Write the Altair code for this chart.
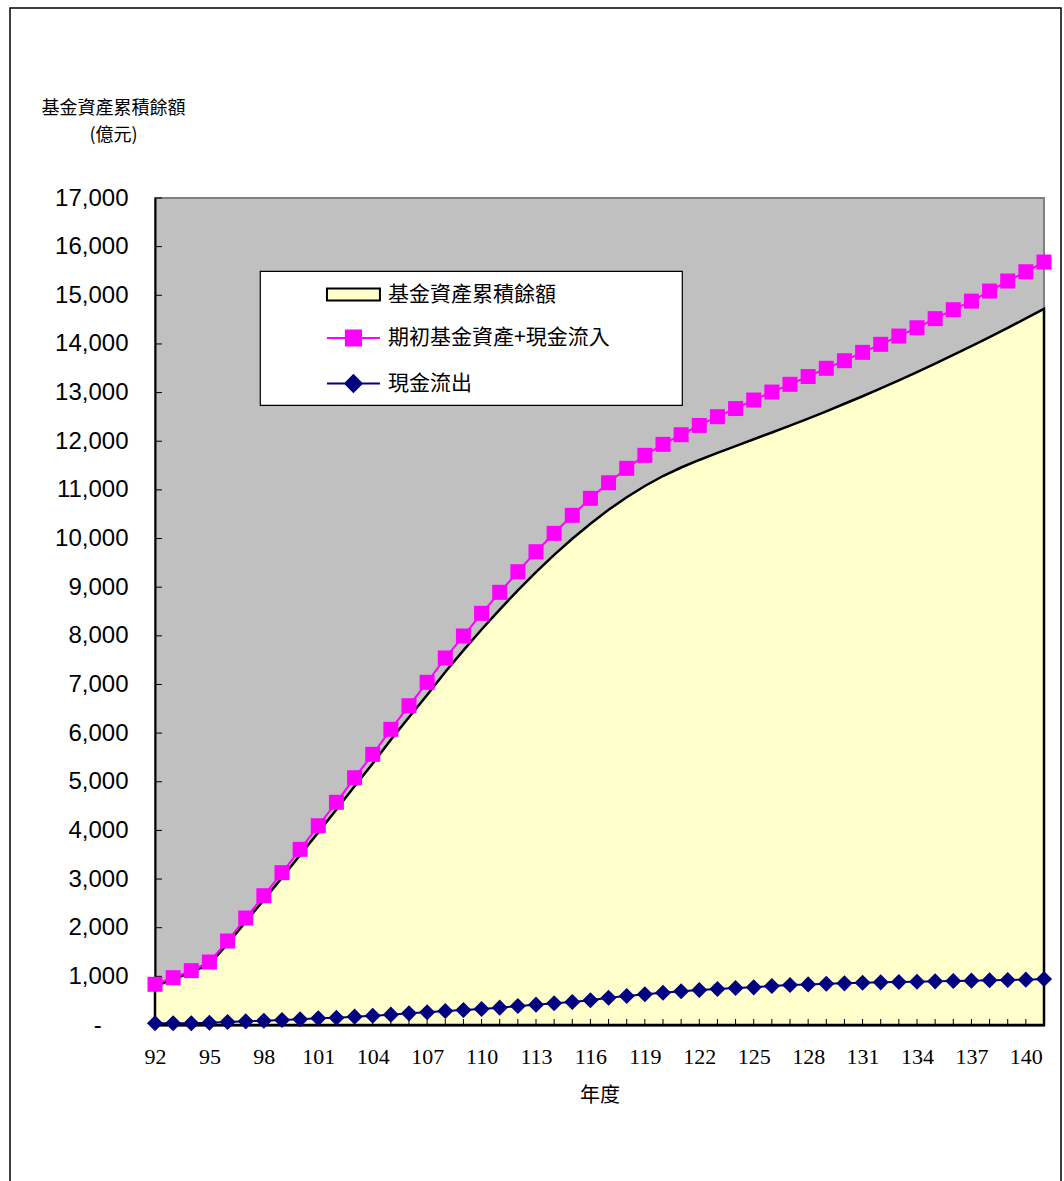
import altair as alt
import pandas as pd

# ---------------- data ----------------
years = list(range(92, 142))

fund_balance = [800, 940, 1080, 1250, 1665, 2125, 2570, 3030, 3495, 3960,
                4430, 4910, 5375, 5865, 6325, 6785, 7255, 7700, 8130, 8540,
                8935, 9310, 9665, 9995, 10305, 10590, 10850, 11080, 11285, 11460,
                11615, 11760, 11900, 12040, 12180, 12320, 12465, 12615, 12770, 12925,
                13085, 13250, 13420, 13595, 13775, 13955, 14140, 14330, 14525, 14720]

begin_plus_inflow = [837, 973, 1117, 1295, 1727, 2199, 2658, 3131, 3611, 4096,
                     4578, 5083, 5564, 6078, 6563, 7044, 7545, 7996, 8462, 8894,
                     9318, 9729, 10107, 10477, 10826, 11147, 11443, 11710, 11936, 12134,
                     12325, 12504, 12672, 12847, 13011, 13170, 13330, 13499, 13655, 13827,
                     13992, 14162, 14333, 14520, 14704, 14880, 15087, 15293, 15484, 15683]

cash_outflow = [35, 35, 35, 47, 62, 75, 88, 103, 117, 138,
                150, 171, 191, 212, 240, 261, 288, 308, 329, 356,
                391, 418, 446, 473, 510, 561, 596, 631, 664, 693,
                719, 740, 761, 774, 801, 822, 835, 848, 856, 869,
                877, 884, 890, 898, 904, 911, 919, 925, 932, 946]

x_tick_labels = [92, 95, 98, 101, 104, 107, 110, 113, 116, 119, 122, 125, 128, 131, 134, 137, 140]
y_ticks = [0, 1000, 2000, 3000, 4000, 5000, 6000, 7000, 8000, 9000, 10000,
           11000, 12000, 13000, 14000, 15000, 16000, 17000]

series_names = ["基金資產累積餘額", "期初基金資產+現金流入", "現金流出"]
y_title = ["基金資產累積餘額", "(億元)"]
x_title = "年度"

# ---------------- styling ----------------
W, H = 889, 827
YELLOW = "#FFFFCC"
PINK = "#FF00FF"
NAVY = "#000080"
CJK = "Noto Sans CJK TC"

df = pd.DataFrame({"year": years, "balance": fund_balance,
                   "inflow": begin_plus_inflow, "outflow": cash_outflow})
xt_df = pd.DataFrame({"year": years})
yt_df = pd.DataFrame({"v": y_ticks})
legend_df = pd.DataFrame({"series": series_names})

x_scale = alt.Scale(domain=[92, 141], nice=False, zero=False)
y_scale = alt.Scale(domain=[0, 17000], nice=False)

nb = "\u00a0"
zw = "\u200b"  # keeps the trailing spaces from being trimmed
y_label_expr = "datum.value == 0 ? '-" + nb * 4 + zw + "' : format(datum.value, ',')"

x_axis = alt.Axis(values=x_tick_labels, format="d", title=x_title,
                  labelFont="Liberation Serif", labelFontSize=22, labelColor="black",
                  labelPadding=21, labelFlush=False, ticks=False, grid=False,
                  domainColor="black", domainWidth=2,
                  titleFont=CJK, titleFontSize=20, titleFontWeight="normal",
                  titleColor="black", titleY=70, titleBaseline="middle")

y_axis = alt.Axis(values=y_ticks, labelExpr=y_label_expr, title=y_title,
                  labelFont="Liberation Sans", labelFontSize=24, labelColor="black",
                  labelPadding=27, ticks=False, grid=False,
                  domainColor="black", domainWidth=2,
                  titleFont=CJK, titleFontSize=18, titleFontWeight="normal",
                  titleColor="black", titleAngle=0, titleAlign="center",
                  titleBaseline="middle", titleX=-42, titleY=-90, titleLineHeight=27)

frame = alt.Chart(alt.Data(values=[{"f": 1}])).mark_rect(
    fillOpacity=0, stroke="black", strokeWidth=1.5
).encode(x=alt.value(-145), x2=alt.value(906), y=alt.value(-190), y2=alt.value(1100))

area = alt.Chart(df).mark_area(fill=YELLOW, stroke="black", strokeWidth=2.5, opacity=1).encode(
    x=alt.X("year:Q", scale=x_scale, axis=x_axis),
    y=alt.Y("balance:Q", scale=y_scale, axis=y_axis),
)

x_ticks_layer = alt.Chart(xt_df).mark_rule(color="black", strokeWidth=1).encode(
    x=alt.X("year:Q", scale=x_scale), y=alt.value(H), y2=alt.value(H - 6))

y_ticks_layer = alt.Chart(yt_df).mark_rule(color="black", strokeWidth=1).encode(
    y=alt.Y("v:Q", scale=y_scale), x=alt.value(0), x2=alt.value(7))

pink_line = alt.Chart(df).mark_line(color=PINK, strokeWidth=2).encode(
    x=alt.X("year:Q", scale=x_scale), y=alt.Y("inflow:Q", scale=y_scale))
pink_pts = alt.Chart(df).mark_point(shape="square", size=225, filled=True, color=PINK, opacity=1).encode(
    x=alt.X("year:Q", scale=x_scale), y=alt.Y("inflow:Q", scale=y_scale))

navy_line = alt.Chart(df).mark_line(color=NAVY, strokeWidth=2).encode(
    x=alt.X("year:Q", scale=x_scale), y=alt.Y("outflow:Q", scale=y_scale))
navy_pts = alt.Chart(df).mark_point(shape="diamond", size=260, filled=True, color=NAVY, opacity=1).encode(
    x=alt.X("year:Q", scale=x_scale), y=alt.Y("outflow:Q", scale=y_scale))

# legend symbols (custom paths in units of sqrt(symbolSize)/2)
path_area = "M3.28,-0.45L7.28,-0.45L7.28,0.45L3.28,0.45Z"
path_pink = "M3.28,0L7.28,0M4.71,-0.57L5.85,-0.57L5.85,0.57L4.71,0.57Z"
path_navy = "M3.28,0L7.28,0M5.28,-0.62L5.9,0L5.28,0.62L4.66,0Z"

leg = alt.Legend(title=None, labelLimit=500,
                 labelExpr="datum.label + '\u3000\u3000\u3000\u200b'")

legend_layer = alt.Chart(legend_df).mark_point(clip=True, opacity=1, filled=True, strokeWidth=2).encode(
    x=alt.datum(0), y=alt.datum(0),
    shape=alt.Shape("series:N", legend=leg,
                    scale=alt.Scale(domain=series_names, range=[path_area, path_pink, path_navy])),
    fill=alt.Fill("series:N", legend=leg,
                  scale=alt.Scale(domain=series_names, range=[YELLOW, PINK, NAVY])),
    stroke=alt.Stroke("series:N", legend=leg,
                      scale=alt.Scale(domain=series_names, range=["black", PINK, NAVY])),
)

chart = alt.layer(
    frame, area, x_ticks_layer, y_ticks_layer, pink_line, pink_pts, navy_line, navy_pts, legend_layer
).properties(
    width=W, height=H,
    autosize=alt.AutoSizeParams(type="none"),
    padding={"left": 155, "top": 198, "right": 20, "bottom": 156},
    background="white",
).configure_view(
    fill="#C0C0C0", stroke="#808080", strokeWidth=2
).configure_legend(
    orient="none", legendX=105, legendY=73,
    fillColor="white", strokeColor="black", strokeWidth=1.2,
    padding=9, rowPadding=18.5,
    labelFont=CJK, labelFontSize=21, labelColor="black",
    labelOffset=90,
    symbolSize=702, symbolStrokeWidth=2, symbolOpacity=1,
)

chart.save("out.html", embed_options={"renderer": "svg", "actions": False})
